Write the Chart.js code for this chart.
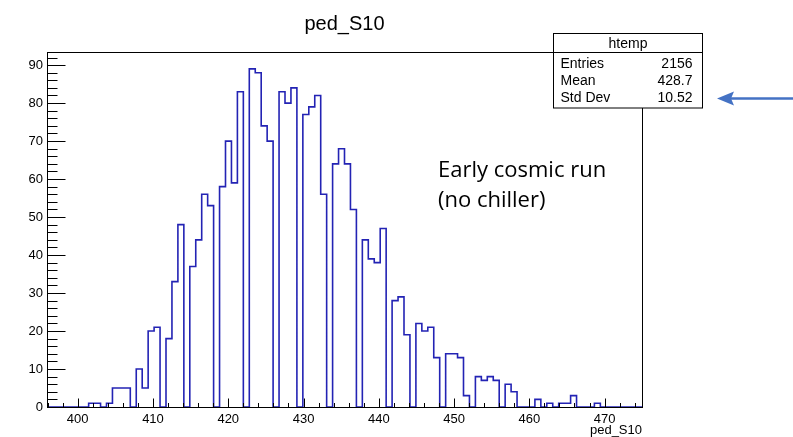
<!DOCTYPE html>
<html lang="en">
<head>
    <meta charset="UTF-8">
    <title>ped_S10</title>
    <script src="https://cdn.jsdelivr.net/npm/chart.js"></script>
    <style>
        html, body { margin: 0; padding: 0; background: #fff; }
        #wrap { width: 793px; height: 437px; }
    </style>
</head>
<body>
    <div id="wrap"><canvas id="histo"></canvas></div>
    <script>
        // htemp : 100 bins from xMin to xMax
        var xMin = 395.92;
        var xMax = 474.97;
        var yMax = 93.45;
        var binCounts = [
            0, 0, 0, 0, 0, 0, 0, 1, 1, 0,
            1, 5, 5, 5, 0, 10, 5, 20, 21, 0,
            18, 33, 48, 0, 37, 44, 56, 53, 0, 58,
            70, 59, 83, 0, 89, 88, 74, 70, 0, 83,
            80, 84, 0, 77, 79, 82, 56, 0, 64, 68,
            64, 52, 0, 44, 39, 38, 47, 0, 28, 29,
            19, 0, 22, 20, 21, 13, 0, 14, 14, 13,
            3, 0, 8, 7, 8, 7, 0, 6, 4, 0,
            0, 0, 2, 0, 1, 0, 1, 1, 3, 0,
            0, 0, 1, 0, 0, 0, 0, 0, 0, 0
        ];
        var xTickValues = [400, 410, 420, 430, 440, 450, 460, 470];
        var yTickValues = [0, 10, 20, 30, 40, 50, 60, 70, 80, 90];
        var statsLabels = ['Entries', 'Mean', 'Std Dev'];
        var statsValues = ['2156', '428.7', '10.52'];

        var binWidth = (xMax - xMin) / binCounts.length;
        var points = binCounts.map(function(c, i) {
            return { x: xMin + i * binWidth, y: c };
        });
        points.push({ x: xMax, y: 0 });

        var rootFrame = {
            id: 'rootFrame',
            afterDatasetsDraw: function(chart) {
                var ctx = chart.ctx, a = chart.chartArea;
                var xs = chart.scales.x, ys = chart.scales.y;
                var L = Math.round(a.left) + 0.5, R = Math.round(a.right) + 0.5;
                var T = Math.round(a.top) + 0.5, B = Math.round(a.bottom) + 0.5;
                ctx.save();
                ctx.strokeStyle = '#000';
                ctx.lineWidth = 1;
                ctx.strokeRect(L, T, R - L, B - T);
                ctx.beginPath();
                // x ticks, pointing inside
                for (var v = Math.ceil(xMin / 2) * 2; v <= xMax; v += 2) {
                    var px = Math.round(xs.getPixelForValue(v)) + 0.5;
                    var len = (v % 10 === 0) ? 9 : 4.5;
                    ctx.moveTo(px, B);
                    ctx.lineTo(px, B - len);
                }
                // y ticks
                for (var w = 0; w <= yMax; w += 2) {
                    var py = Math.round(ys.getPixelForValue(w)) + 0.5;
                    var l2 = (w % 10 === 0) ? 18 : 10;
                    ctx.moveTo(L, py);
                    ctx.lineTo(L + l2, py);
                }
                ctx.stroke();
                ctx.restore();
            },
            afterDraw: function(chart) {
                var ctx = chart.ctx, a = chart.chartArea;
                ctx.save();
                ctx.fillStyle = '#000';
                // title
                ctx.font = '20px "Liberation Sans"';
                ctx.textAlign = 'center';
                ctx.textBaseline = 'alphabetic';
                ctx.fillText('ped_S10', (a.left + a.right) / 2, 30);
                // x axis title
                ctx.font = '13px "Liberation Sans"';
                ctx.textAlign = 'right';
                ctx.fillText('ped_S10', a.right, 434);

                // stats box
                ctx.fillStyle = '#fff';
                ctx.fillRect(553.5, 33.5, 149, 74.5);
                ctx.strokeStyle = '#000';
                ctx.lineWidth = 1;
                ctx.strokeRect(553.5, 33.5, 149, 74.5);
                ctx.beginPath();
                ctx.moveTo(553.5, 52.5);
                ctx.lineTo(702.5, 52.5);
                ctx.stroke();
                ctx.fillStyle = '#000';
                ctx.font = '14px "Liberation Sans"';
                ctx.textBaseline = 'middle';
                ctx.textAlign = 'center';
                ctx.fillText('htemp', 628, 44);
                var rowY = [64, 81, 98.5];
                for (var i = 0; i < statsLabels.length; i++) {
                    ctx.textAlign = 'left';
                    ctx.fillText(statsLabels[i], 560.5, rowY[i]);
                    ctx.textAlign = 'right';
                    ctx.fillText(statsValues[i], 692.5, rowY[i]);
                }

                // annotation
                ctx.textBaseline = 'alphabetic';
                ctx.textAlign = 'left';
                ctx.font = '22px "Open Sans"';
                ctx.fillText('Early cosmic run', 438, 177);
                ctx.fillText('(no chiller)', 438, 206.5);

                // arrow
                ctx.strokeStyle = '#4472C4';
                ctx.fillStyle = '#4472C4';
                ctx.lineWidth = 2.5;
                ctx.beginPath();
                ctx.moveTo(730, 98.5);
                ctx.lineTo(793, 98.5);
                ctx.stroke();
                ctx.beginPath();
                ctx.moveTo(717, 98.5);
                ctx.lineTo(734, 91.5);
                ctx.lineTo(731, 98.5);
                ctx.lineTo(734, 105.5);
                ctx.closePath();
                ctx.fill();
                ctx.restore();
            }
        };

        var ctx = document.getElementById('histo').getContext('2d');
        var chart = new Chart(ctx, {
            type: 'line',
            data: {
                datasets: [{
                    label: 'htemp',
                    data: points,
                    stepped: true,
                    borderColor: '#2323b4',
                    borderWidth: 1.6,
                    pointRadius: 0,
                    fill: false
                }]
            },
            options: {
                responsive: true,
                maintainAspectRatio: false,
                animation: false,
                layout: { padding: { left: 0, top: 52, right: 151, bottom: 0 } },
                plugins: {
                    legend: { display: false },
                    tooltip: { enabled: false }
                },
                scales: {
                    x: {
                        type: 'linear',
                        min: xMin,
                        max: xMax,
                        grid: { display: false, drawTicks: false },
                        border: { display: false },
                        afterBuildTicks: function(scale) {
                            scale.ticks = xTickValues.map(function(v) { return { value: v }; });
                        },
                        afterFit: function(scale) { scale.height = 30; },
                        ticks: {
                            color: '#000',
                            padding: 5,
                            maxRotation: 0,
                            autoSkip: false,
                            font: { family: 'Liberation Sans', size: 13 }
                        }
                    },
                    y: {
                        min: 0,
                        max: yMax,
                        grid: { display: false, drawTicks: false },
                        border: { display: false },
                        afterBuildTicks: function(scale) {
                            scale.ticks = yTickValues.map(function(v) { return { value: v }; });
                        },
                        afterFit: function(scale) { scale.width = 47; },
                        ticks: {
                            color: '#000',
                            padding: 4,
                            autoSkip: false,
                            font: { family: 'Liberation Sans', size: 13 }
                        }
                    }
                }
            },
            plugins: [rootFrame]
        });
    </script>
</body>
</html>
